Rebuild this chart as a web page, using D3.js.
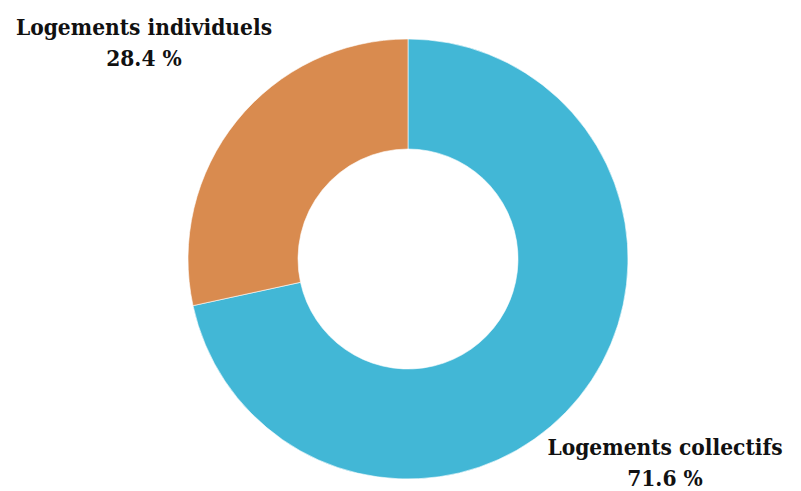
<!doctype html>
<head>
  <meta charset="utf-8">
  <script src="https://cdnjs.cloudflare.com/ajax/libs/d3/7.8.2/d3.min.js"></script>
</head>
<style>
    body { margin: 0; background: #fff; }
    text { font-family: "DejaVu Serif Condensed", "DejaVu Serif", serif; font-weight: bold; fill: #111; }
</style>
<body>
    <div id="chart"></div>
    <script>
        // Données
        const categories = ["Logements collectifs", "Logements individuels"];
        const values = [71.6, 28.4];
        const colors = ["#42b7d6", "#d98b4f"];

        const width = 801, height = 491;
        const cx = 408, cy = 259, outerR = 220, innerR = 110;

        const data = categories.map((c, i) => ({ name: c, value: values[i], color: colors[i] }));

        const svg = d3.select('#chart')
            .append('svg')
            .attr('width', width)
            .attr('height', height);

        const pie = d3.pie().sort(null).value(d => d.value);
        const arc = d3.arc().innerRadius(innerR).outerRadius(outerR);

        const g = svg.append('g').attr('transform', `translate(${cx},${cy})`);

        g.selectAll('path')
            .data(pie(data))
            .enter()
            .append('path')
            .attr('d', arc)
            .attr('fill', d => d.data.color)
            .attr('stroke', '#fff')
            .attr('stroke-width', 0.6);

        // Étiquettes
        const labelPos = [
            { x: 665, y: 455 },
            { x: 144, y: 35 }
        ];
        data.forEach((d, i) => {
            const t = svg.append('text')
                .attr('text-anchor', 'middle')
                .attr('font-size', 22.5);
            t.append('tspan').attr('x', labelPos[i].x).attr('y', labelPos[i].y).text(d.name);
            t.append('tspan').attr('x', labelPos[i].x).attr('y', labelPos[i].y + 31).text(d3.format('.1f')(d.value) + ' %');
        });
    </script>
</body>
